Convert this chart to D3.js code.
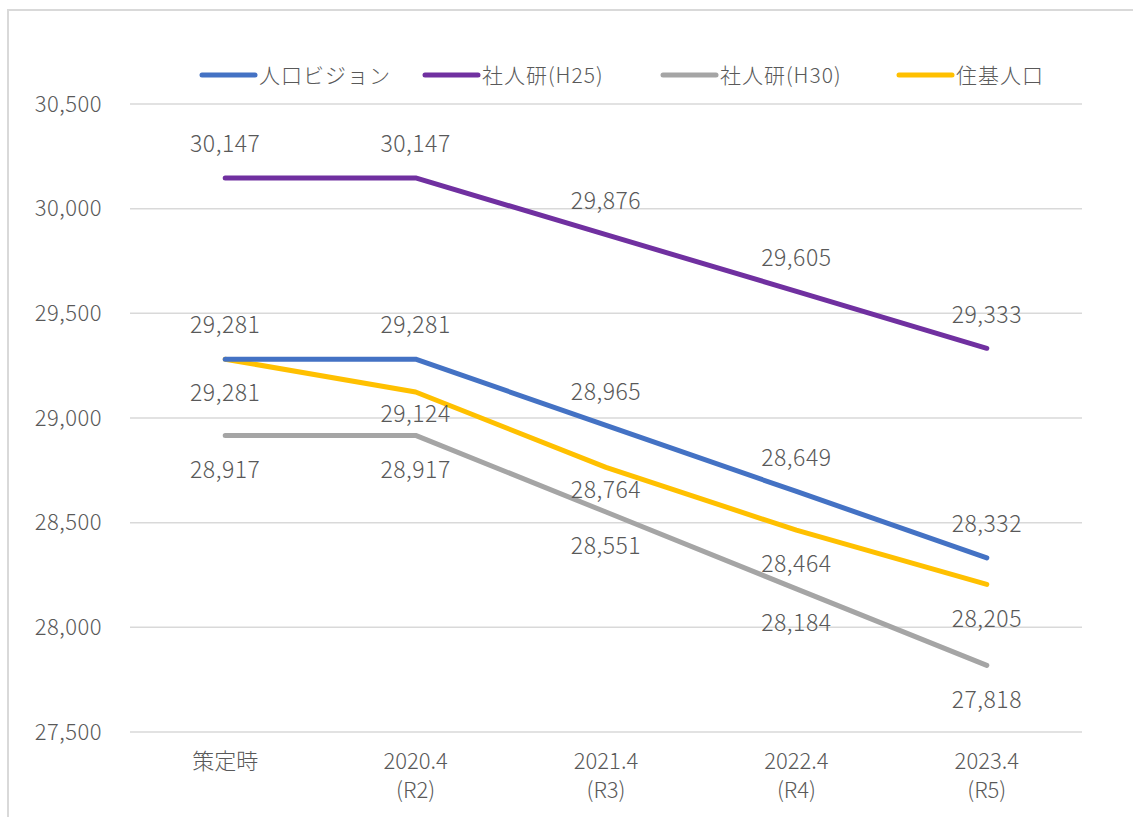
<!DOCTYPE html>
<html>
<head>
<meta charset="utf-8">
<script src="https://cdn.jsdelivr.net/npm/d3@7"></script>
<style>
  body { margin: 0; background: #fff; }
  text { font-family: "Noto Sans CJK JP", "Noto Sans", sans-serif; fill: #595959; font-weight: 300; }
</style>
</head>
<body>
<svg id="chart" width="1133" height="817"></svg>
<script>
// categories and series
const categories = ["策定時", "2020.4\n(R2)", "2021.4\n(R3)", "2022.4\n(R4)", "2023.4\n(R5)"];
const seriesNames = ["人口ビジョン", "社人研(H25)", "社人研(H30)", "住基人口"];
const vision = [29281, 29281, 28965, 28649, 28332];
const ipssH25 = [30147, 30147, 29876, 29605, 29333];
const ipssH30 = [28917, 28917, 28551, 28184, 27818];
const registry = [29281, 29124, 28764, 28464, 28205];
const yTicks = [27500, 28000, 28500, 29000, 29500, 30000, 30500];

const colors = ["#4472C4", "#7030A0", "#A5A5A5", "#FFC000"];
const labelSide = [-1, -1, 1, 1];       // -1 above, 1 below
const registryNudge = [0, -12, -12, 0, 0]; // hand-moved labels in the original

const series = [vision, ipssH25, ipssH30, registry].map((v, i) => ({
    name: seriesNames[i], values: v, color: colors[i], side: labelSide[i]
}));

const svg = d3.select('#chart');
const margin = {left: 130, right: 51, top: 104, bottom: 85};
const W = 1133, H = 817;

// outer frame
svg.append('path')
    .attr('d', `M8,${H} V10 H${W}`)
    .attr('fill', 'none')
    .attr('stroke', '#d9d9d9')
    .attr('stroke-width', 2);

const x = d3.scaleBand()
    .domain(categories)
    .range([margin.left, W - margin.right]);

const y = d3.scaleLinear()
    .domain([27500, 30500])
    .range([H - margin.bottom, margin.top]);

// grid
svg.append('g')
    .selectAll('line')
    .data(yTicks)
    .join('line')
    .attr('x1', margin.left).attr('x2', W - margin.right)
    .attr('y1', d => y(d)).attr('y2', d => y(d))
    .attr('stroke', '#d9d9d9')
    .attr('stroke-width', 1.5);

// y axis labels
const yAxis = svg.append('g')
    .attr('transform', `translate(${margin.left - 28},0)`)
    .call(d3.axisLeft(y).tickValues(yTicks).tickFormat(d3.format(',')).tickSize(0).tickPadding(0));
yAxis.select('.domain').remove();
yAxis.selectAll('text')
    .style('font-size', '22px')
    .style('letter-spacing', '0.5px')
    .attr('fill', '#595959')
    .attr('font-family', '"Noto Sans CJK JP", sans-serif');

// x axis labels
const xg = svg.append('g');
categories.forEach(c => {
    const lines = c.split('\n');
    const t = xg.append('text')
        .attr('x', x(c) + x.bandwidth() / 2)
        .attr('y', 769)
        .attr('text-anchor', 'middle')
        .style('font-size', '22px');
    lines.forEach((l, i) => {
        t.append('tspan')
            .attr('x', x(c) + x.bandwidth() / 2)
            .attr('dy', i === 0 ? 0 : 29)
            .text(l);
    });
});

const line = d3.line()
    .x((d, i) => x(categories[i]) + x.bandwidth() / 2)
    .y(d => y(d));

// lines (draw order like the original: gray, yellow, blue, purple)
[2, 3, 0, 1].forEach(k => {
    const s = series[k];
    svg.append('path')
        .datum(s.values)
        .attr('d', line)
        .attr('fill', 'none')
        .attr('stroke', s.color)
        .attr('stroke-width', 5)
        .attr('stroke-linecap', 'round')
        .attr('stroke-linejoin', 'round');
});

// data labels
series.forEach((s, k) => {
    svg.append('g')
        .selectAll('text')
        .data(s.values)
        .join('text')
        .attr('x', (d, i) => x(categories[i]) + x.bandwidth() / 2)
        .attr('y', (d, i) => y(d) + s.side * 34 + (k === 3 ? registryNudge[i] : 0))
        .attr('dy', '0.36em')
        .attr('text-anchor', 'middle')
        .style('font-size', '23px')
        .style('letter-spacing', '0.5px')
        .text(d => d3.format(',')(d));
});

// legend
const legendX = [200, 423, 661, 897];
const lg = svg.append('g');
series.forEach((s, i) => {
    const g = lg.append('g').attr('transform', `translate(${legendX[i]},75)`);
    g.append('line')
        .attr('x1', 2).attr('x2', 55)
        .attr('stroke', s.color)
        .attr('stroke-width', 5)
        .attr('stroke-linecap', 'round');
    g.append('text')
        .attr('x', 59)
        .attr('dy', '0.36em')
        .style('font-size', '21px')
        .style('letter-spacing', '1px')
        .text(s.name);
});
</script>
</body>
</html>
